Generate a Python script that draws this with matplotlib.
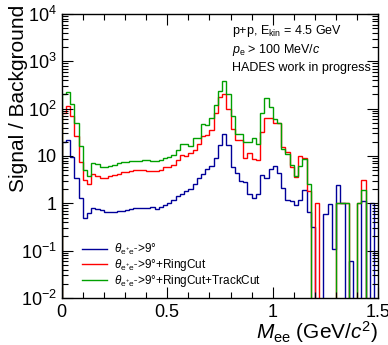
import matplotlib.pyplot as plt
import numpy as np
from matplotlib.ticker import FixedLocator, FixedFormatter, LogLocator, MultipleLocator, NullFormatter

plt.rcParams['font.family'] = ['Liberation Sans', 'DejaVu Sans']
plt.rcParams['mathtext.fontset'] = 'custom'
plt.rcParams['mathtext.rm'] = 'Liberation Sans'
plt.rcParams['mathtext.it'] = 'Liberation Sans:italic'
plt.rcParams['mathtext.bf'] = 'Liberation Sans:bold'

# binning: 75 bins of 20 MeV from 0 to 1.5 GeV
mass_edges = np.linspace(0.0, 1.5, 76)

# signal / background per bin (0 = empty bin)
sb_angle = [20, 22, 9.5, 3.4, 1.3, 0.50, 0.62, 0.80, 0.75, 0.72,
            0.66, 0.67, 0.67, 0.68, 0.70, 0.74, 0.76, 0.78, 0.79, 0.80,
            0.81, 0.82, 0.77, 0.82, 0.90, 1.0, 1.2, 1.45, 1.6, 1.8,
            2.0, 2.6, 3.4, 4.2, 5.4, 6.2, 9.1, 17.4, 29, 17.4,
            6.0, 4.4, 2.9, 2.8, 1.6, 1.3, 1.6, 4.0, 3.4, 5.2,
            6.2, 4.4, 2.1, 1.2, 1.1, 0.93, 1.2, 1.9, 0.67, 0.32,
            0, 0, 0.59, 0.96, 0.11, 2.46, 1.0, 0, 0.06, 0,
            0, 1.1, 0, 1.0, 0]
sb_ring = [81, 116, 69, 26, 7.5, 3.1, 2.5, 4.2, 3.7, 3.4,
           3.4, 3.7, 3.9, 4.2, 4.6, 4.7, 4.9, 5.0, 5.0, 5.0,
           4.9, 4.9, 4.9, 5.1, 5.8, 5.8, 6.5, 8.4, 10.6, 10.2,
           11.6, 13.6, 18.3, 27, 28, 36, 80, 180, 200, 100,
           38, 22, 22, 9.2, 11.6, 8.6, 8.2, 31.6, 64, 62,
           50, 49, 15.5, 11.9, 6.0, 3.6, 10.1, 9.0, 1.8, 0,
           1, 0, 0, 0, 0, 1, 1, 1, 0, 0,
           1, 3.1, 0, 0, 0]
sb_track = [209, 228, 125, 50, 16.5, 5.1, 3.8, 7.1, 6.7, 5.8,
            5.9, 6.2, 6.5, 7.0, 7.3, 7.6, 7.9, 7.9, 8.0, 8.3,
            8.2, 7.9, 7.7, 8.3, 9.0, 9.3, 10.5, 13.6, 17.5, 17.5,
            16.2, 24, 24, 48, 46, 62, 120, 240, 380, 200,
            69, 29, 29, 19.5, 19.5, 24, 18, 82, 170, 110,
            60, 50, 14, 11.2, 6.5, 3.8, 6.2, 8.6, 2.6, 0,
            0, 0, 0, 0, 0, 1, 1, 1, 0, 0,
            1, 1.9, 0, 0, 0]

labels = [r'$\theta_{\rm e^{+}e^{-}}$>9°',
          r'$\theta_{\rm e^{+}e^{-}}$>9°+RingCut',
          r'$\theta_{\rm e^{+}e^{-}}$>9°+RingCut+TrackCut']
colors = ['#000099', '#ff0000', '#00a000']

fig = plt.figure(figsize=(3.88, 3.45), dpi=100)
ax = fig.add_axes([61.7/388, 1 - 298/345, (378.3 - 61.7)/388, (298 - 14)/345])

floor = 1e-4
for vals, lab, col in zip([sb_angle, sb_ring, sb_track], labels, colors):
    v = np.array(vals, dtype=float)
    v = np.where(v > 0, v, floor)
    ax.stairs(v, mass_edges, baseline=floor, color=col, lw=1.0, label=lab)

ax.set_yscale('log')
ax.set_xlim(0, 1.5)
ax.set_ylim(1e-2, 1e4)

ax.xaxis.set_major_locator(FixedLocator([0, 0.5, 1, 1.5]))
ax.xaxis.set_major_formatter(FixedFormatter(['0', '0.5', '1', '1.5']))
ax.xaxis.set_minor_locator(MultipleLocator(0.1))
yt = [1e-2, 1e-1, 1, 10, 1e2, 1e3, 1e4]
ax.yaxis.set_major_locator(FixedLocator(yt))
ax.yaxis.set_major_formatter(FixedFormatter([r'$10^{-2}$', r'$10^{-1}$', '1', '10',
                                             r'$10^{2}$', r'$10^{3}$', r'$10^{4}$']))
ax.yaxis.set_minor_locator(LogLocator(base=10, subs=np.arange(2, 10), numticks=20))
ax.yaxis.set_minor_formatter(NullFormatter())
ax.tick_params(which='both', direction='in', top=True, right=True, labelsize=13, width=0.8)
ax.tick_params(which='major', length=8)
ax.tick_params(which='minor', length=4)
ax.tick_params(axis='x', pad=4)
for s in ax.spines.values():
    s.set_linewidth(1.0)

ax.set_xlabel(r'$M_{\rm ee}$ (GeV/$c^{2}$)', fontsize=15, loc='right')
ax.xaxis.set_label_coords(1.0, -0.076)
ax.set_ylabel('Signal / Background', fontsize=15, loc='top')
ax.yaxis.set_label_coords(-0.108, 1.032)

ax.text(0.537, 0.940, r'p+p, E$_{\rm kin}$ = 4.5 GeV', transform=ax.transAxes, fontsize=9, va='center')
ax.text(0.537, 0.873, r'$p_{\rm e}$ > 100 MeV/$c$', transform=ax.transAxes, fontsize=9, va='center')
ax.text(0.537, 0.810, 'HADES work in progress', transform=ax.transAxes, fontsize=9, va='center')

ax.legend(loc='lower left', bbox_to_anchor=(0.045, 0.01), frameon=False, fontsize=8.5,
          handlelength=2.1, handletextpad=0.65, labelspacing=0.0, borderpad=0)

fig.savefig('out.png', dpi=100)
